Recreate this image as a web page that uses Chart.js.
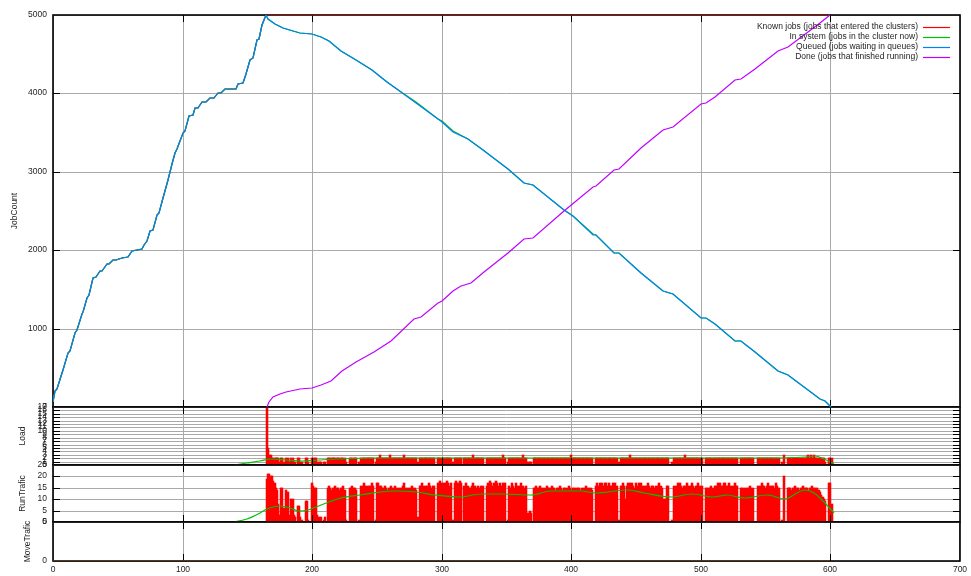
<!DOCTYPE html>
<html>
<head>
<meta charset="utf-8">
<title>Cluster job simulation</title>
<script src="https://cdn.jsdelivr.net/npm/chart.js@4.4.1/dist/chart.umd.min.js"></script>
<style>
  html, body { margin: 0; padding: 0; background: #fff; }
  #wrap { position: relative; width: 971px; height: 576px; }
  #wrap canvas { position: absolute; left: 0; top: 0; }
</style>
</head>
<body>
<div id="wrap">
  <canvas id="cMove" width="971" height="576"></canvas>
  <canvas id="cRun" width="971" height="576"></canvas>
  <canvas id="cLoad" width="971" height="576"></canvas>
  <canvas id="cJobs" width="971" height="576"></canvas>
</div>
<script>
// ---- job counts (time, jobs) ----
// arrivals: every arriving job is known, queued and in the system until the first one runs
const arrivalT = [0, 1.5, 3, 6.7, 8, 11.8, 13, 17, 18.5, 22.2, 23.5, 26, 28, 31.2, 33, 36.3, 38, 41.5, 43, 46.6,
  49, 53, 58, 60.8, 68.5, 70, 72.3, 74.9, 77, 80, 82, 85.2, 89, 92, 94.2, 96, 100.6, 102, 105.2, 108,
  109.6, 112, 114.8, 118, 121.2, 124, 127.6, 130, 132.7, 141.2, 143, 146.9, 149, 152, 154, 157.2, 159, 161, 164.4];
const arrivalJobs = [60, 206, 230, 440, 470, 695, 720, 950, 980, 1182, 1210, 1394, 1430, 1649, 1655, 1733, 1740, 1818, 1825, 1873,
  1880, 1903, 1915, 1987, 2009, 2060, 2115, 2242, 2260, 2454, 2480, 2667, 2900, 3100, 3239, 3290, 3494, 3520, 3714, 3720,
  3812, 3820, 3884, 3890, 3940, 3945, 4003, 4010, 4062, 4062, 4121, 4138, 4250, 4427, 4450, 4682, 4700, 4873, 5000];

// known jobs stay at the total once all have arrived
const knownT = [600];
const knownJobs = [5000];

// draining phase
const queuedT = [166, 171.3, 177.7, 185.5, 191, 200, 206.5, 213, 222, 233.6, 246.5, 258, 268.4, 280, 296.8, 300.6,
  308.4, 320, 331.6, 350.9, 363.7, 370.2, 394.7, 401, 416.6, 419, 433.3, 437, 454, 470.7, 478.5, 500.4, 504, 510.7,
  526.1, 531, 541.6, 559.7, 567.4, 591.9, 595.7, 600.5];
const queuedJobs = [4950, 4885, 4830, 4800, 4774, 4757, 4723, 4672, 4545, 4426, 4299, 4150, 4023, 3883, 3672, 3641,
  3514, 3417, 3281, 3036, 2857, 2836, 2509, 2433, 2200, 2195, 1967, 1962, 1712, 1479, 1436, 1140, 1137, 1055,
  842, 836, 702, 461, 406, 100, 79, 5];
const inSystemJobs = [4951, 4886, 4831, 4801, 4775, 4758, 4724, 4673, 4546, 4427, 4300, 4151, 4024, 3884, 3673, 3642,
  3515, 3418, 3282, 3037, 2858, 2837, 2510, 2434, 2201, 2196, 1968, 1963, 1713, 1480, 1437, 1141, 1138, 1056,
  843, 837, 703, 462, 407, 101, 80, 6];

const doneT = [165, 167, 170, 175, 180, 191, 200, 206.5, 214.2, 223.3, 233.6, 247.7, 260.6, 278.7, 283.9, 296.8, 300.6,
  308.4, 314.8, 322.5, 332.8, 350.9, 363.7, 370.2, 394.7, 416.6, 419, 433.3, 437, 454, 470.7, 478.5, 500.4, 504,
  510.7, 526.1, 531, 541.6, 559.7, 567.4, 591.9, 595.7, 600];
const doneJobs = [0, 70, 125, 165, 195, 228, 244, 279, 333, 461, 575, 707, 842, 1118, 1153, 1331, 1351,
  1478, 1542, 1585, 1725, 1958, 2145, 2150, 2496, 2807, 2815, 3027, 3035, 3303, 3535, 3570, 3866, 3875,
  3959, 4172, 4185, 4307, 4545, 4595, 4893, 4950, 5000];

// ---- per-step cluster measurements, one value per time step from barStart ----
const barStart = 165;
const loadValues = [
  17,5,3,3,2,2,2,2,2,2,   1,2,2,1,0,2,2,1,1,2,   2,1,1,0,2,2,1,1,0,0,   2,2,1,0,0,2,2,2,2,1,
  1,1,1,0,1,1,0,2,2,2,    2,2,2,2,2,2,2,2,2,2,   2,1,0,0,2,2,2,2,2,2,   0,1,0,2,2,2,2,2,2,2,
  2,2,2,0,1,2,2,3,2,2,    2,2,2,2,2,3,2,2,2,2,   2,2,2,2,2,2,3,2,2,2,   2,2,2,2,2,2,0,1,2,2,
  2,2,2,2,2,2,2,2,2,2,    0,0,2,2,2,2,2,2,2,2,   2,2,2,0,1,2,2,2,2,2,   2,0,2,2,2,2,2,2,2,3,
  2,2,2,2,2,2,2,2,0,0,    2,2,2,2,2,2,2,2,2,2,   2,2,3,2,2,0,1,2,2,2,   2,2,2,2,2,2,2,2,3,2,
  2,1,1,1,1,0,2,2,2,2,    2,2,2,2,2,2,2,2,2,2,   2,2,2,2,2,2,2,2,2,2,   2,2,2,2,2,3,2,2,2,2,
  2,2,2,2,2,2,2,2,2,2,    2,2,0,0,2,2,2,2,2,2,   2,2,2,2,2,2,2,2,2,2,   2,0,1,2,2,2,2,2,2,2,
  3,2,2,2,2,2,2,2,2,2,    2,2,2,2,2,2,2,2,2,2,   2,2,2,2,2,2,2,2,2,2,   2,0,0,1,2,2,2,2,2,2,
  2,2,2,3,2,2,2,2,2,2,    2,2,2,2,2,2,2,0,0,2,   2,2,2,2,2,1,2,2,2,2,   2,2,2,2,2,2,2,2,2,2,
  2,2,2,2,0,0,2,2,2,2,    2,2,2,2,2,2,0,0,0,2,   2,2,2,2,2,2,2,2,2,2,   2,2,2,2,2,2,0,0,1,3,
  0,0,2,2,2,2,2,2,2,2,    2,2,2,2,2,2,2,2,3,2,   3,2,3,2,2,2,2,2,2,2,   2,1,0,0,2,2,2];
const runTrafic = [
  19,21,21,20,20,18,17,15,14,8,        3,15,15,6,0,14,13,3,2,10,          10,3,2,0,7,7,2,1,0,0,
  9,9,1,0,0,17,16,15,15,3,             2,1,2,0,1,2,0,15,16,15,            14,15,15,16,15,15,14,15,15,16,
  14,1,0,0,15,15,16,15,15,14,          0,1,0,16,16,17,16,16,15,16,        16,17,16,0,1,17,17,16,16,15,
  15,16,15,14,15,15,16,15,15,16,       15,15,14,15,15,16,17,15,15,14,     15,15,16,15,15,14,0,2,16,16,
  17,16,15,16,16,17,16,15,16,16,       0,0,17,17,18,17,16,17,17,18,       17,16,17,0,1,17,18,17,17,18,
  17,0,16,15,17,16,15,15,16,17,        15,16,15,16,15,16,15,16,0,0,       16,17,18,17,16,17,16,18,17,16,
  17,16,17,16,17,0,1,16,15,17,         16,15,17,16,15,16,17,15,16,15,     16,4,4,5,4,0,15,15,16,15,
  15,16,15,15,14,15,16,15,15,15,       16,15,15,14,15,15,16,15,14,15,     15,14,15,16,15,14,15,15,14,15,
  15,15,14,15,14,15,16,15,14,15,       15,14,0,0,16,17,16,17,16,17,       16,17,17,16,17,16,16,17,16,17,
  16,0,1,16,16,17,16,10,16,17,         17,16,17,16,15,17,16,17,16,17,     16,15,16,16,17,16,15,16,16,15,
  16,15,16,17,16,15,10,10,10,16,       16,0,0,1,16,15,16,17,16,17,        16,15,16,16,17,16,15,16,17,16,
  15,16,16,17,16,15,16,0,0,15,         15,15,15,16,15,3,16,16,17,16,      17,16,16,17,17,16,16,17,16,15,
  16,17,16,16,0,0,15,15,15,14,         15,15,15,16,15,15,0,0,0,16,        15,16,17,16,16,15,16,17,16,15,
  16,16,15,17,16,15,0,0,1,20,          0,0,15,15,15,14,15,15,16,15,       15,14,15,15,16,15,15,15,14,15,
  15,16,15,15,14,15,14,13,12,11,       10,9,0,0,17,17,8];

// smoothed trends of the two measurements
const loadAvgT = [140, 150, 160, 168, 180, 192, 205, 220, 250, 300, 350, 400, 450, 500, 550, 580, 588, 595, 603];
const loadAvg = [0, 0.5, 1.3, 1.8, 1.6, 1.3, 1.5, 1.8, 2, 2, 2, 2.1, 2.1, 2.1, 2.1, 2.3, 2.6, 1.8, 0.4];
const runAvgT = [140, 150, 160, 165, 175, 183, 190, 197, 203, 213, 222, 237, 262, 280, 295, 313, 331, 347, 369, 384,
  408, 418, 444, 456, 477, 493, 509, 520, 533, 552, 564, 580, 587, 595, 603];
const runAvg = [0, 1.5, 4, 5.7, 6.9, 6.2, 5, 5.3, 6.4, 8.6, 10.5, 12, 13.4, 13, 12, 11, 12.5, 12.5, 12, 13.7,
  13.7, 12.9, 14.1, 12.9, 11.1, 12.1, 11.1, 11.7, 10.6, 11.9, 10, 14.1, 12.9, 8.6, 4];

// no job ever moved between clusters
const moveT = [0, 600];
const moveVals = [0, 0];

// ---- axis ranges and tick steps ----
const timeMax = 700, timeStep = 100;
const jobMax = 5000, jobStep = 1000;
const loadMax = 17, loadStep = 1;
const runMax = 25, runStep = 5;
const moveMax = 5, moveStep = 5;

// ---- drawing ----
const FONT = '"Liberation Sans", Arial, Helvetica, sans-serif';
const TEXT = '#1e1e1e';
const GRID = '#a9a9a9';
const FS = 8.5;

const xy = (ts, vs) => ts.map((t, i) => ({ x: t, y: vs[i] }));
const steps = vs => vs.map((v, i) => ({ x: barStart + i, y: v }));
const plain = v => String(v);

function drawFrame(chart, o) {
  const { ctx, chartArea: a, scales: { x, y } } = chart;
  ctx.save();
  ctx.strokeStyle = '#000';
  ctx.lineWidth = 1;
  ctx.beginPath();
  x.ticks.forEach(t => {
    const p = Math.round(x.getPixelForValue(t.value)) + 0.5;
    if (p <= a.left + 1 || p >= a.right - 1) return;
    ctx.moveTo(p, a.top); ctx.lineTo(p, a.top + o.tickLen);
    ctx.moveTo(p, a.bottom); ctx.lineTo(p, a.bottom - o.tickLen);
  });
  y.ticks.forEach(t => {
    const p = Math.round(y.getPixelForValue(t.value)) + 0.5;
    if (p <= a.top + 1 || p >= a.bottom - 1) return;
    ctx.moveTo(a.left, p); ctx.lineTo(a.left + o.tickLen, p);
    ctx.moveTo(a.right, p); ctx.lineTo(a.right - o.tickLen, p);
  });
  ctx.stroke();
  ctx.lineWidth = 1.6;
  ctx.strokeRect(a.left, a.top, a.right - a.left, a.bottom - a.top);
  ctx.restore();
}

function drawLegend(chart) {
  const { ctx, chartArea: a } = chart;
  ctx.save();
  ctx.font = `${FS}px ${FONT}`;
  ctx.textAlign = 'right';
  ctx.textBaseline = 'middle';
  chart.data.datasets.forEach((ds, i) => {
    const yy = a.top + 12 + i * 10;
    ctx.fillStyle = TEXT;
    ctx.fillText(ds.label, a.right - 42, yy);
    ctx.strokeStyle = ds.borderColor;
    ctx.lineWidth = 1.2;
    ctx.beginPath();
    ctx.moveTo(a.right - 37, yy + 0.5);
    ctx.lineTo(a.right - 10, yy + 0.5);
    ctx.stroke();
  });
  ctx.restore();
}

function drawTitle(chart, o) {
  const { ctx, chartArea: a } = chart;
  ctx.save();
  ctx.font = `${FS}px ${FONT}`;
  ctx.fillStyle = TEXT;
  ctx.translate(o.titleX, (a.top + a.bottom) / 2);
  ctx.rotate(-Math.PI / 2);
  ctx.textAlign = 'center';
  ctx.textBaseline = 'middle';
  ctx.fillText(o.title, 0, 0);
  ctx.restore();
}

const framePlugin = {
  id: 'frame',
  beforeDatasetsDraw(chart, args, o) { if (!o.borderOver) drawFrame(chart, o); },
  afterDatasetsDraw(chart, args, o) {
    if (o.borderOver) drawFrame(chart, o);
    if (o.legend) drawLegend(chart);
  },
  afterDraw(chart, args, o) { drawTitle(chart, o); }
};

function xScale(showLabels) {
  return {
    type: 'linear', min: 0, max: timeMax, offset: false, alignToPixels: true,
    ticks: { stepSize: timeStep, display: showLabels, maxRotation: 0, padding: 4, callback: plain,
             font: { family: FONT, size: FS }, color: TEXT },
    grid: { color: GRID, lineWidth: 1, drawTicks: false, offset: false },
    border: { display: false },
    afterFit: s => { s.height = showLabels ? 15 : 0; }
  };
}

function yScale(max, step) {
  return {
    type: 'linear', min: 0, max: max, alignToPixels: true,
    ticks: { stepSize: step, autoSkip: false, padding: 6, callback: plain,
             font: { family: FONT, size: FS }, color: TEXT },
    grid: { color: GRID, lineWidth: 1, drawTicks: false },
    border: { display: false },
    afterFit: s => { s.width = 53; }
  };
}

function baseOptions(top, bottom, frame, showX, yMax, yStep) {
  return {
    responsive: false, animation: false, devicePixelRatio: 1, events: [],
    layout: { padding: { left: 0, right: 11, top: top, bottom: bottom } },
    elements: { point: { radius: 0 }, line: { borderWidth: 1.2, tension: 0 } },
    scales: { x: xScale(showX), y: yScale(yMax, yStep) },
    plugins: { legend: { display: false }, tooltip: { enabled: false }, frame: frame }
  };
}

function stepBars(values) {
  return { type: 'bar', data: steps(values), backgroundColor: '#ff0000', borderWidth: 0,
           barThickness: 1.9, order: 2 };
}

function trend(ts, vs) {
  return { type: 'line', data: xy(ts, vs), borderColor: '#00c000', borderWidth: 1.2,
           pointRadius: 0, cubicInterpolationMode: 'monotone', order: 1 };
}

// job counts
new Chart(document.getElementById('cJobs'), {
  type: 'line',
  data: {
    datasets: [
      { label: 'Known jobs (jobs that entered the clusters)', borderColor: '#ff0000', order: 4,
        data: xy(arrivalT.concat(knownT), arrivalJobs.concat(knownJobs)) },
      { label: 'In system (jobs in the cluster now)', borderColor: '#00c000', order: 3,
        data: xy(arrivalT.concat(queuedT), arrivalJobs.concat(inSystemJobs)) },
      { label: 'Queued (jobs waiting in queues)', borderColor: '#0080ff', order: 2,
        data: xy(arrivalT.concat(queuedT), arrivalJobs.concat(queuedJobs)) },
      { label: 'Done (jobs that finished running)', borderColor: '#c000ff', order: 1,
        data: xy(doneT, doneJobs) }
    ]
  },
  options: baseOptions(15, 576 - 407, { tickLen: 7, title: 'JobCount', titleX: 15, legend: true, borderOver: false },
                       false, jobMax, jobStep),
  plugins: [framePlugin]
});

// load per step
new Chart(document.getElementById('cLoad'), {
  type: 'bar',
  data: { datasets: [stepBars(loadValues), trend(loadAvgT, loadAvg)] },
  options: baseOptions(407, 576 - 465, { tickLen: 7, title: 'Load', titleX: 23, borderOver: true },
                       false, loadMax, loadStep),
  plugins: [framePlugin]
});

// run traffic per step
new Chart(document.getElementById('cRun'), {
  type: 'bar',
  data: { datasets: [stepBars(runTrafic), trend(runAvgT, runAvg)] },
  options: baseOptions(465, 576 - 522, { tickLen: 7, title: 'RunTrafic', titleX: 23, borderOver: true },
                       false, runMax, runStep),
  plugins: [framePlugin]
});

// move traffic, with the shared time axis
new Chart(document.getElementById('cMove'), {
  type: 'line',
  data: {
    datasets: [
      { data: xy(moveT, moveVals), borderColor: '#603818', borderWidth: 1.4 }
    ]
  },
  options: baseOptions(522, 0, { tickLen: 7, title: 'MoveTrafic', titleX: 28, borderOver: false },
                       true, moveMax, moveStep),
  plugins: [framePlugin]
});
</script>
</body>
</html>
